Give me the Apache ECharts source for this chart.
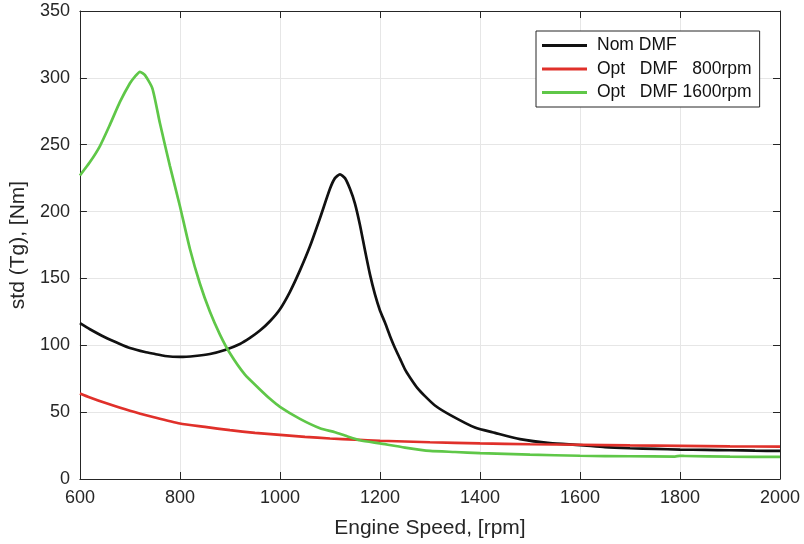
<!DOCTYPE html>
<html>
<head>
<meta charset="utf-8">
<script src="https://cdn.jsdelivr.net/npm/echarts@6/dist/echarts.min.js"></script>
<style>html,body{margin:0;padding:0;background:#fff;}#c{width:804px;height:544px;}</style>
</head>
<body>
<div id="c"></div>
<script>
var seriesNames = ['Nom DMF', 'Opt   DMF   800rpm', 'Opt   DMF 1600rpm'];
var xTicks = [600, 800, 1000, 1200, 1400, 1600, 1800, 2000];
var yTicks = [0, 50, 100, 150, 200, 250, 300, 350];

var nomRpm = [600,620,650,680,700,730,750,770,800,830,860,890,920,940,960,980,1000,1020,1040,1060,1080,1100,1110,1120,1130,1140,1150,1160,1170,1180,1190,1200,1210,1220,1230,1240,1250,1260,1275,1290,1310,1340,1390,1430,1480,1540,1600,1650,1700,1750,1800,1850,1900,1950,2000];
var nomVal = [116.5,112,106,101,98,95,93.5,92,91.3,92,93.5,96.5,101,105.5,111,118,127,140,156,174,195,217,225,227.8,225,217,206,190,171,153,138,126,117,107,98,90,82,76,68,62,55,48,38.5,34.5,29.8,26.8,25.4,23.8,23,22.5,22,21.8,21.5,21.2,21];

var opt800Rpm = [600,620,650,700,750,800,850,900,950,1000,1050,1100,1150,1200,1300,1400,1500,1600,1700,1800,1900,2000];
var opt800Val = [64,61,57,51,46,41.5,39,36.5,34.5,33,31.5,30.3,29.4,28.6,27.5,26.6,26,25.6,25.1,24.8,24.4,24.2];

var opt1600Rpm = [600,620,640,660,680,700,710,720,730,745,760,780,800,820,840,860,880,900,930,960,980,1000,1040,1080,1110,1130,1160,1200,1250,1300,1350,1400,1500,1600,1700,1790,1800,1810,1900,2000];
var opt1600Val = [227,237,249,265,282,296,301,304.5,302,292,266,234,204,172,146,125,108,94,78,67,60,54,45,38,35,32.5,29,26.6,23.5,21,20.2,19.4,18.2,17.4,17,16.8,17.3,17.2,16.7,16.5];

function pairs(xs, ys){ return xs.map(function(x,i){ return [x, ys[i]]; }); }

var FONT = '"Liberation Sans", Arial, Helvetica, sans-serif';
var AX = '#262626';
var chart = echarts.init(document.getElementById('c'), null, {renderer:'canvas'});

function xAx(pos, main){
  return {
    type:'value', position:pos, min:600, max:2000, interval:200,
    name: main ? 'Engine Speed, [rpm]' : '',
    nameLocation:'middle', nameGap:39,
    nameTextStyle:{fontFamily:FONT, fontSize:21, color:AX},
    axisLine:{show:true, onZero:false, lineStyle:{color:AX, width:1}},
    axisTick:{show:true, inside:true, length:7, lineStyle:{color:AX}},
    axisLabel:{show:main, fontFamily:FONT, fontSize:18, color:AX, margin:10,
      formatter:function(v){ return xTicks.indexOf(v) >= 0 ? String(v) : ''; }},
    splitLine:{show:main, lineStyle:{color:'#e6e6e6', width:1}}
  };
}
function yAx(pos, main){
  return {
    type:'value', position:pos, min:0, max:350, interval:50,
    name: main ? 'std (Tg), [Nm]' : '',
    nameLocation:'middle', nameGap:42, nameRotate:90,
    nameTextStyle:{fontFamily:FONT, fontSize:21, color:AX},
    axisLine:{show:true, onZero:false, lineStyle:{color:AX, width:1}},
    axisTick:{show:true, inside:true, length:7, lineStyle:{color:AX}},
    axisLabel:{show:main, fontFamily:FONT, fontSize:18, color:AX, margin:10,
      formatter:function(v){ return yTicks.indexOf(v) >= 0 ? String(v) : ''; }},
    splitLine:{show:main, lineStyle:{color:'#e6e6e6', width:1}}
  };
}

var colors = ['#111111', '#e0302a', '#5fc748'];
var datas = [pairs(nomRpm, nomVal), pairs(opt800Rpm, opt800Val), pairs(opt1600Rpm, opt1600Val)];

chart.setOption({
  animation:false,
  backgroundColor:'#ffffff',
  grid:{left:76, right:24, top:11, bottom:64, containLabel:false},
  xAxis:[xAx('bottom', true), xAx('top', false)],
  yAxis:[yAx('left', true), yAx('right', false)],
  legend:{
    orient:'vertical', left:536, top:31,
    padding:[4,8,4,6], itemGap:2.5, itemWidth:45, itemHeight:3, icon:'rect',
    borderColor:AX, borderWidth:1, backgroundColor:'#ffffff',
    textStyle:{fontFamily:FONT, fontSize:17.5, color:'#111', lineHeight:21, padding:[0,0,0,5]},
    data: seriesNames
  },
  series: seriesNames.map(function(n, i){
    return {
      name:n, type:'line', xAxisIndex:0, yAxisIndex:0,
      data:datas[i], symbol:'none', smooth:0.2,
      lineStyle:{color:colors[i], width:2.7}, itemStyle:{color:colors[i]},
      z: 2 + i
    };
  })
});
</script>
</body>
</html>
